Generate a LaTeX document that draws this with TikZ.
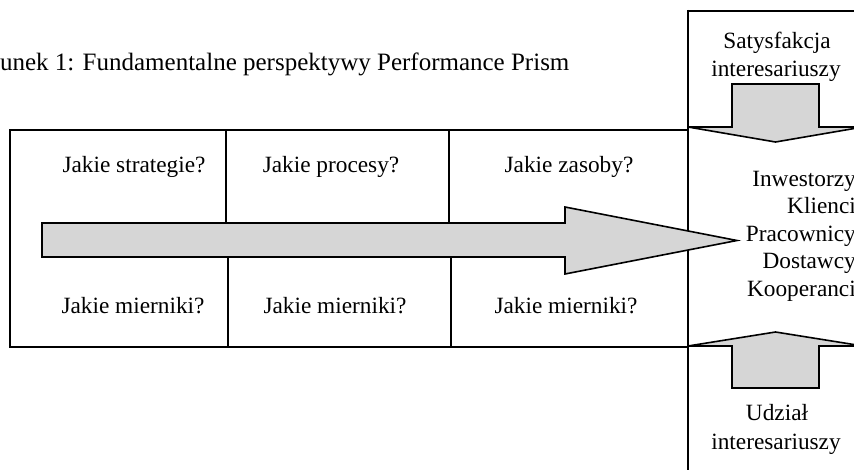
\documentclass[tikz,border=0pt]{standalone}
\usepackage{fontspec}
\setmainfont{Liberation Serif}
\begin{document}
\begin{tikzpicture}[x=1pt,y=-1pt,
  line join=miter,
  frame/.style={line width=1.4pt,draw=black},
  bigarrow/.style={line width=1.6pt,draw=black,fill=black!16},
  lbl/.style={inner sep=0pt,font=\fontsize{23.3}{27.5}\selectfont},
]
\useasboundingbox (0,0) rectangle (854,470);
\clip (0,0) rectangle (854,470);

% caption
\node[lbl,anchor=base west,font=\fontsize{25}{30}\selectfont] (title) at (-38,71)
  {Rysunek 1: Fundamentalne perspektywy Performance Prism};

% main box with column dividers
\draw[frame] (10,130) rectangle (688,347);
\draw[frame] (226,130) -- (226,223);
\draw[frame] (228,257) -- (228,347);
\draw[frame] (449,130) -- (449,223);
\draw[frame] (451,257) -- (451,347);

% stakeholder column
\draw[line width=2pt] (688,10) -- (688,470);
\draw[frame] (688,11) -- (860,11);

% horizontal arrow
\draw[bigarrow] (42,223) -- (565,223) -- (565,207) -- (737,240.5)
  -- (565,274) -- (565,257) -- (42,257) -- cycle;

% downward arrow (satisfaction)
\draw[bigarrow] (732,84) -- (819,84) -- (819,127) -- (863,127)
  -- (775.5,142) -- (688,127) -- (732,127) -- cycle;

% upward arrow (contribution)
\draw[bigarrow] (732,388) -- (819,388) -- (819,346) -- (863,346)
  -- (775.5,332) -- (688,346) -- (732,346) -- cycle;

% cell texts
\node[lbl,anchor=base] (q1) at (134,173) {Jakie strategie?};
\node[lbl,anchor=base] (q2) at (331,173) {Jakie procesy?};
\node[lbl,anchor=base] (q3) at (569,173) {Jakie zasoby?};
\node[lbl,anchor=base] (m1) at (133,314) {Jakie mierniki?};
\node[lbl,anchor=base] (m2) at (335,314) {Jakie mierniki?};
\node[lbl,anchor=base] (m3) at (566,314) {Jakie mierniki?};

% stakeholder texts
\node[lbl,anchor=base] (sat1) at (777,49) {Satysfakcja};
\node[lbl,anchor=base] (sat2) at (776,77) {interesariuszy};
\node[lbl,anchor=base] (ud1) at (777,420) {Udział};
\node[lbl,anchor=base] (ud2) at (776,449) {interesariuszy};

\node[lbl,anchor=base east] (s1) at (856,186.5) {Inwestorzy};
\node[lbl,anchor=base east] (s2) at (856,214) {Klienci};
\node[lbl,anchor=base east] (s3) at (856,241.5) {Pracownicy};
\node[lbl,anchor=base east] (s4) at (856,269) {Dostawcy};
\node[lbl,anchor=base east] (s5) at (856,296.5) {Kooperanci};
\end{tikzpicture}
\end{document}
